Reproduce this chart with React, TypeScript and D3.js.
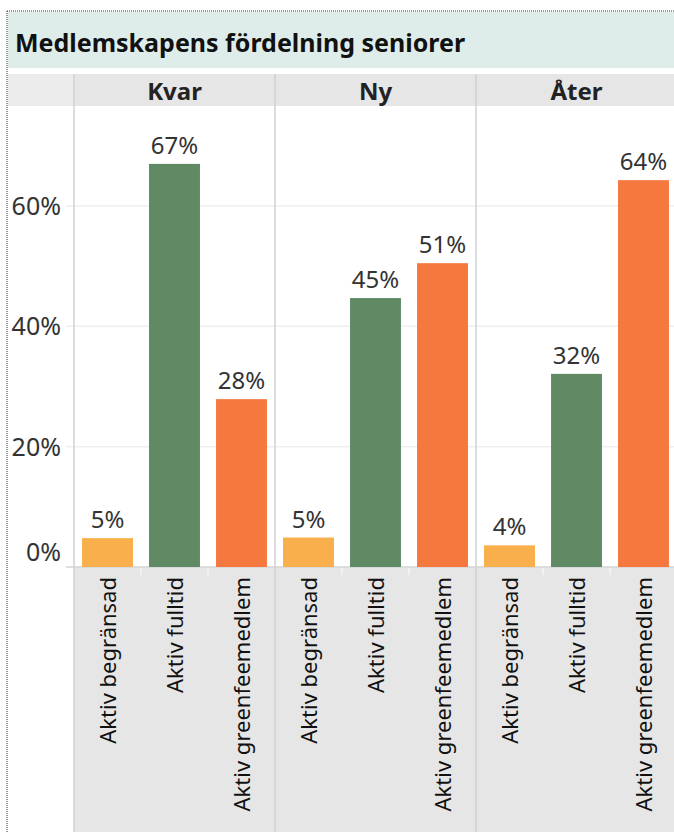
import React from 'react';
import * as d3 from 'd3';

const panels = ['Kvar', 'Ny', 'Åter'];
const types = ['Aktiv begränsad', 'Aktiv fulltid', 'Aktiv greenfeemedlem'];
const kvarValues = [0.048, 0.67, 0.279];
const nyValues = [0.049, 0.447, 0.505];
const aterValues = [0.036, 0.321, 0.643];
const yTicks = [0, 0.2, 0.4, 0.6];
const colors = ['#f9b04c', '#5f8a64', '#f5793f'];

const W = 674;
const H = 832;
const FONT = '"Noto Sans", sans-serif';

const App = () => {
  const values = [kvarValues, nyValues, aterValues];
  const zeroY = 567;

  const x = d3.scaleBand().domain(panels).range([74, 74 + 201 * 3]);
  const xi = d3.scaleBand().domain(types).range([0, x.bandwidth()]).paddingInner(0.24).paddingOuter(0.12);
  const y = d3.scaleLinear().domain([0, 0.6]).range([zeroY, 206]);
  const pct = d3.format('.0%');

  return (
    <svg width={W} height={H} style={{ position: 'absolute', left: 0, top: 0 }} fontFamily={FONT}>
      <rect width={W} height={H} fill="#fff" />
      {/* title band */}
      <rect x={8} y={12} width={W - 8} height={56} fill="#deedea" />
      <text x={15} y={52} fontSize={25} fontWeight="bold" fill="#111">Medlemskapens fördelning seniorer</text>
      {/* header row */}
      <rect x={8} y={74} width={66} height={32} fill="#ebebeb" />
      <rect x={74} y={74} width={W - 74} height={32} fill="#e6e6e6" />
      {panels.map(p => (
        <text key={p} x={x(p)! + x.bandwidth() / 2} y={100} textAnchor="middle" fontSize={24} fontWeight="bold" fill="#222">{p}</text>
      ))}
      {/* gridlines */}
      {yTicks.filter(t => t > 0).map(t => (
        <line key={t} x1={66} x2={W} y1={y(t)} y2={y(t)} stroke="#efefef" strokeWidth={1.5} />
      ))}
      {yTicks.map(t => (
        <text key={'l' + t} x={61} y={Math.min(y(t) + 9, zeroY - 6)} textAnchor="end" fontSize={25} fill="#333">{pct(t)}</text>
      ))}
      {/* x axis label area */}
      <rect x={74} y={zeroY} width={W - 74} height={H - zeroY} fill="#e6e6e6" />
      {panels.map(p => types.slice(1).map(t => (
        <line key={p + t} x1={x(p)! + xi(t)! - xi.step() * 0.12} x2={x(p)! + xi(t)! - xi.step() * 0.12} y1={zeroY + 1} y2={zeroY + 8} stroke="#f4f4f4" strokeWidth={1.5} />
      )))}
      <line x1={66} x2={W} y1={zeroY} y2={zeroY} stroke="#d4d4d4" strokeWidth={1.5} />
      {/* bars */}
      {panels.map((p, pi) => types.map((t, ti) => {
        const v = values[pi][ti];
        const bx = x(p)! + xi(t)!;
        return (
          <g key={p + t}>
            <rect x={bx} y={y(v)} width={xi.bandwidth()} height={zeroY - y(v)} fill={colors[ti]} />
            <text x={bx + xi.bandwidth() / 2} y={y(v) - 10} textAnchor="middle" fontSize={24} fill="#333">{pct(v)}</text>
          </g>
        );
      }))}
      {/* rotated category labels */}
      {panels.map(p => types.map(t => (
        <text key={'x' + p + t} transform={`translate(${x(p)! + xi(t)! + xi.bandwidth() / 2 + 8},${zeroY + 10}) rotate(-90)`} textAnchor="end" fontSize={22} fill="#111">{t}</text>
      )))}
      {/* panel dividers */}
      {panels.map(p => (
        <line key={'d' + p} x1={x(p)!} x2={x(p)!} y1={74} y2={H} stroke="#d0d0d0" strokeWidth={1.5} />
      ))}
      {/* dotted border */}
      <line x1={7} x2={W} y1={11} y2={11} stroke="#333" strokeWidth={1} strokeDasharray="1,1" />
      <line x1={7} x2={7} y1={11} y2={H} stroke="#333" strokeWidth={1} strokeDasharray="1,1" />
    </svg>
  );
};

export default App;
